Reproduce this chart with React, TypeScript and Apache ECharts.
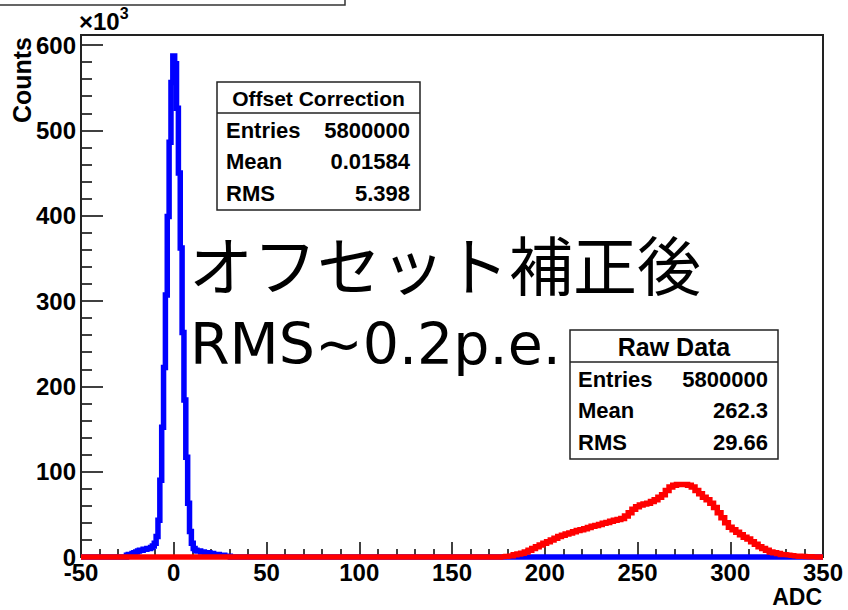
import React, { useEffect, useRef } from "react";
import * as echarts from "echarts";

// Axis ranges (ADC, counts in units of 10^3)
const xMin = -50;
const xMax = 350;
const xInterval = 50;
const yMin = 0;
const yMax = 600;
const yInterval = 100;

// Offset-corrected histogram (1 ADC bins, first bin centre -25), counts x10^3
const blueFirstBin = -25;
const blueBinWidth = 1;
const blueCounts = [
  2, 3, 3, 4, 5, 6, 7, 8, 8, 9, 9, 10, 10, 11, 13, 16, 24, 43, 90, 152, 222, 307,
  399, 486, 556, 587, 578, 526, 450, 362, 263, 184, 117, 63, 30, 16, 10, 8, 7, 7,
  6, 6, 5, 5, 5, 4, 4, 3, 3, 3, 2, 2, 2, 1, 1, 1,
];

// Raw data histogram (2 ADC bins, first bin centre 178), counts x10^3
const redFirstBin = 178;
const redBinWidth = 2;
const redCounts = [
  0.5, 1, 1.5, 2.5, 3.5, 4.5, 6, 8, 10, 12, 14, 16, 18, 20, 22, 24, 25.5, 27, 28,
  29.5, 31, 32, 33, 34.5, 36, 37, 38, 39.5, 40.5, 42, 43, 44, 45, 48, 52, 56, 59,
  61, 62, 63, 65, 67, 70, 73, 78, 82, 84, 85, 85, 85, 84, 82, 78, 74, 70, 67, 63,
  58, 52, 46, 40, 35, 32, 29, 26, 23, 21, 18, 15, 12, 10, 8, 6, 5, 4, 3, 2.5, 2,
  1.5, 1, 0.8, 0.5, 0.3, 0.2,
];

const offsetStats = { title: "Offset Correction", entries: "5800000", mean: "0.01584", rms: "5.398" };
const rawStats = { title: "Raw Data", entries: "5800000", mean: "262.3", rms: "29.66" };

const annotationLine1 = "オフセット補正後";
const annotationLine2 = "RMS~0.2p.e.";

function toSteps(first: number, width: number, counts: number[]) {
  const pts: number[][] = [[xMin, 0], [first - width, 0]];
  counts.forEach((c, i) => pts.push([first + i * width, c]));
  pts.push([first + counts.length * width, 0], [xMax, 0]);
  return pts;
}

const LAB = "Liberation Sans, Arial, sans-serif";

function statBox(
  s: { title: string; entries: string; mean: string; rms: string },
  x: number, y: number, w: number, h: number, headH: number,
  titleSize: number, rowSize: number, rowYs: number[], padL: number, padR: number
) {
  const rows = [
    ["Entries", s.entries],
    ["Mean", s.mean],
    ["RMS", s.rms],
  ];
  const els: any[] = [
    { type: "rect", z: 100, shape: { x, y, width: w, height: h }, style: { fill: "#fff", stroke: "#222", lineWidth: 1.5 } },
    { type: "line", z: 101, shape: { x1: x, y1: y + headH, x2: x + w, y2: y + headH }, style: { stroke: "#222", lineWidth: 1.5 } },
    {
      type: "text", z: 101, x: x + w / 2, y: y + headH / 2 + 1,
      style: { text: s.title, font: `bold ${titleSize}px ${LAB}`, fill: "#000", align: "center", verticalAlign: "middle" },
    },
  ];
  rows.forEach((r, i) => {
    els.push({
      type: "text", z: 101, x: x + padL, y: rowYs[i],
      style: { text: r[0], font: `bold ${rowSize}px ${LAB}`, fill: "#000", align: "left", verticalAlign: "middle" },
    });
    els.push({
      type: "text", z: 101, x: x + w - padR, y: rowYs[i],
      style: { text: r[1], font: `bold ${rowSize}px ${LAB}`, fill: "#000", align: "right", verticalAlign: "middle" },
    });
  });
  return els;
}

export default function App() {
  const ref = useRef<HTMLDivElement>(null);
  useEffect(() => {
    if (!ref.current) return;
    const chart = echarts.init(ref.current, undefined, { renderer: "svg" });
    const axisLabel = { color: "#000", fontFamily: LAB, fontWeight: "bold" as const, fontSize: 24 };
    const option: any = {
      animation: false,
      backgroundColor: "#fff",
      grid: { left: 81, right: 25, top: 45, bottom: 53, show: false },
      xAxis: {
        type: "value",
        min: xMin,
        max: xMax,
        interval: xInterval,
        axisLine: { show: true, onZero: false, lineStyle: { color: "#000", width: 2 } },
        axisTick: { show: true, inside: true, length: 15, lineStyle: { color: "#000", width: 1.5 } },
        minorTick: { show: true, splitNumber: 5, length: 8, lineStyle: { color: "#000", width: 1.5 } },
        splitLine: { show: false },
        axisLabel: { ...axisLabel, margin: 3 },
      },
      yAxis: {
        type: "value",
        min: yMin,
        max: yMax,
        interval: yInterval,
        axisLine: { show: true, onZero: false, lineStyle: { color: "#000", width: 2 } },
        axisTick: { show: true, inside: true, length: 22, lineStyle: { color: "#000", width: 1.5 } },
        minorTick: { show: true, splitNumber: 5, length: 11, lineStyle: { color: "#000", width: 1.5 } },
        splitLine: { show: false },
        axisLabel: { ...axisLabel, margin: 5 },
      },
      series: [
        {
          type: "line",
          name: "Offset Correction",
          data: toSteps(blueFirstBin, blueBinWidth, blueCounts),
          step: "middle",
          symbol: "none",
          clip: false,
          z: 3,
          lineStyle: { color: "#0000ff", width: 5.5, join: "miter", cap: "butt" },
        },
        {
          type: "line",
          name: "Raw Data",
          data: toSteps(redFirstBin, redBinWidth, redCounts),
          step: "middle",
          symbol: "none",
          clip: false,
          z: 4,
          lineStyle: { color: "#ff0000", width: 5.5, join: "miter", cap: "butt" },
        },
      ],
      graphic: [
        // partial title box at the top
        { type: "rect", z: 1, shape: { x: -4, y: -40, width: 349, height: 45 }, style: { fill: "#fff", stroke: "#333", lineWidth: 1.5 } },
        // frame
        { type: "rect", z: 1, shape: { x: 81, y: 35, width: 742, height: 522 }, style: { fill: "none", stroke: "#222", lineWidth: 2 } },
        // x10^3
        {
          type: "text", z: 50, x: 79, y: 33,
          style: {
            text: "{a|×10}{b|3}",
            verticalAlign: "bottom",
            rich: {
              a: { font: `bold 24px ${LAB}`, fill: "#000", verticalAlign: "bottom" },
              b: { font: `bold 16px ${LAB}`, fill: "#000", verticalAlign: "top", padding: [0, 0, 12, 0] },
            },
          },
        },
        // Counts
        {
          type: "text", z: 50, x: 22, y: 37, rotation: Math.PI / 2,
          style: { text: "Counts", font: `bold 25px ${LAB}`, fill: "#000", align: "right", verticalAlign: "middle" },
        },
        // ADC
        {
          type: "text", z: 50, x: 822, y: 597,
          style: { text: "ADC", font: `bold 23px ${LAB}`, fill: "#000", align: "right", verticalAlign: "middle" },
        },
        ...statBox(offsetStats, 217, 82, 203, 128, 31, 21, 22, [130, 161, 193], 9, 10),
        ...statBox(rawStats, 570, 330, 208, 129, 32, 25, 22, [379, 410, 442], 8, 10),
        // annotation text
        {
          type: "text", z: 60, x: 189, y: 262,
          style: { text: annotationLine1, font: `64px "Noto Sans CJK JP", sans-serif`, fill: "#000", align: "left", verticalAlign: "middle" },
        },
        {
          type: "text", z: 60, x: 190, y: 344,
          style: { text: annotationLine2, font: `57px "DejaVu Sans", sans-serif`, fill: "#000", align: "left", verticalAlign: "middle" },
        },
      ],
    };
    chart.setOption(option);
    return () => chart.dispose();
  }, []);
  return (
    <div
      ref={ref}
      style={{ position: "absolute", left: 0, top: 0, width: 848, height: 610, background: "#fff" }}
    />
  );
}
